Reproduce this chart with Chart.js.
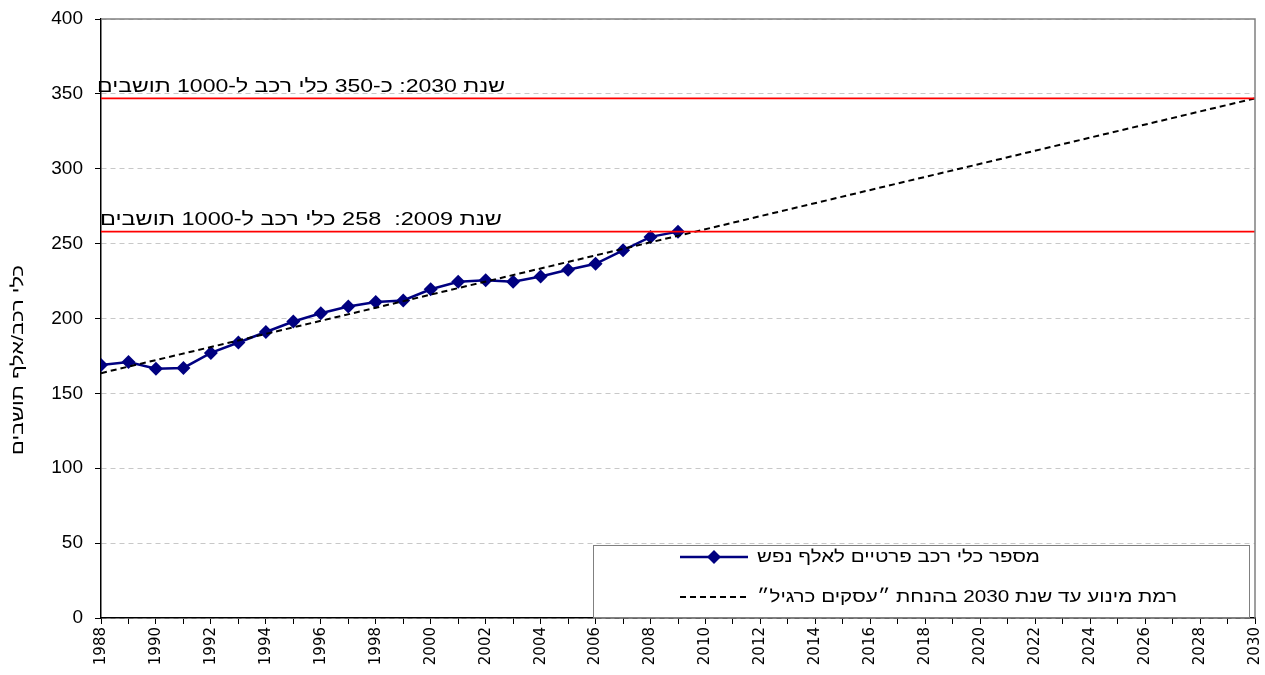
<!DOCTYPE html>
<html><head><meta charset="utf-8">
<script src="https://cdn.jsdelivr.net/npm/chart.js@4"></script>
<style>html,body{margin:0;padding:0;background:#fff}</style>
</head><body>
<canvas id="c" width="1265" height="675" style="display:block"></canvas>
<script>
// ---- data ----
const years = [1988,1989,1990,1991,1992,1993,1994,1995,1996,1997,1998,1999,2000,2001,2002,2003,2004,2005,2006,2007,2008,2009];
const vehiclesPer1000 = [169,171,166.5,167,177,184,191,198,203.5,208,211,212,219.5,224.5,225.5,224.5,228,232.5,236.5,245.5,254.5,258];
const trendYears = [1988, 2030];
const trendValues = [163.5, 347];
const refLineYears = [1988, 2030];
const level2030 = 347;
const level2009 = 258;
const yTicks = [0,50,100,150,200,250,300,350,400];
const xMin = 1988, xMax = 2030;
const seriesLabel = 'מספר כלי רכב פרטיים לאלף נפש';
const trendLabel = 'רמת מינוע עד שנת 2030 בהנחת ״עסקים כרגיל״';
const note2030 = 'שנת 2030: כ-350 כלי רכב ל-1000 תושבים';
const note2009 = 'שנת 2009:  258 כלי רכב ל-1000 תושבים';
const yTitle = 'כלי רכב/אלף תושבים';

const pts = (xs, ys) => xs.map((x, i) => ({x, y: ys[i]}));

// draws RTL text with its left edge at x, stretched to a given width
function stretchText(ctx, text, x, y, width) {
  const w = ctx.measureText(text).width;
  ctx.save();
  ctx.translate(x, y);
  ctx.scale(width / w, 1);
  ctx.direction = 'rtl';
  ctx.textAlign = 'left';
  ctx.fillText(text, 0, 0);
  ctx.restore();
}

const overlay = {
  id: 'overlay',
  afterDraw(chart) {
    const {ctx, chartArea: a, scales: {x, y}} = chart;
    ctx.save();
    ctx.strokeStyle = '#808080'; ctx.lineWidth = 1.5;
    ctx.beginPath();
    ctx.moveTo(a.left, a.top); ctx.lineTo(a.right, a.top); ctx.lineTo(a.right, a.bottom);
    ctx.stroke();
    ctx.fillStyle = '#000';
    ctx.font = '19px "Liberation Sans", Arial, sans-serif';
    ctx.textBaseline = 'alphabetic';
    stretchText(ctx, note2030, 97, y.getPixelForValue(level2030) - 6, 408);
    stretchText(ctx, note2009, 100, y.getPixelForValue(level2009) - 7, 402);
    // y title
    ctx.save();
    ctx.translate(18, 360);
    ctx.rotate(-Math.PI / 2);
    ctx.font = '17px "Liberation Sans", Arial, sans-serif';
    ctx.textBaseline = 'middle';
    stretchText(ctx, yTitle, -95, 0, 190);
    ctx.restore();
    // legend
    ctx.fillStyle = '#fff';
    ctx.fillRect(593, 545, 657, 73);
    ctx.strokeStyle = '#808080'; ctx.lineWidth = 1;
    ctx.strokeRect(593.5, 545.5, 656, 72);
    ctx.strokeStyle = '#000080'; ctx.lineWidth = 2.5;
    ctx.beginPath(); ctx.moveTo(680, 557); ctx.lineTo(748, 557); ctx.stroke();
    ctx.fillStyle = '#000080';
    ctx.beginPath(); ctx.moveTo(714, 550); ctx.lineTo(721, 557); ctx.lineTo(714, 564); ctx.lineTo(707, 557); ctx.closePath(); ctx.fill();
    ctx.strokeStyle = '#000'; ctx.lineWidth = 2; ctx.setLineDash([6, 4]);
    ctx.beginPath(); ctx.moveTo(680, 597); ctx.lineTo(750, 597); ctx.stroke();
    ctx.setLineDash([]);
    ctx.fillStyle = '#000';
    ctx.font = '17px "Liberation Sans", Arial, sans-serif';
    ctx.textBaseline = 'middle';
    stretchText(ctx, seriesLabel, 757, 557, 283);
    stretchText(ctx, trendLabel, 757, 597, 420);
    ctx.restore();
  }
};

new Chart(document.getElementById('c'), {
  type: 'line',
  data: {
    datasets: [
      {label: seriesLabel, data: pts(years, vehiclesPer1000), borderColor: '#000080', backgroundColor: '#000080',
       borderWidth: 2.5, pointStyle: 'rectRot', pointRadius: 7, pointBorderWidth: 0, tension: 0, order: 3},
      {label: trendLabel, data: pts(trendYears, trendValues), borderColor: '#000', borderWidth: 2,
       borderDash: [6, 4], pointRadius: 0, order: 2},
      {label: 'level2030', data: pts(refLineYears, [level2030, level2030]), borderColor: '#ff0000', borderWidth: 1.6, pointRadius: 0, order: 1},
      {label: 'level2009', data: pts(refLineYears, [level2009, level2009]), borderColor: '#ff0000', borderWidth: 1.6, pointRadius: 0, order: 1}
    ]
  },
  options: {
    responsive: false,
    animation: false,
    layout: {padding: {top: 19, right: 10, left: 0, bottom: 0}},
    plugins: {legend: {display: false}, tooltip: {enabled: false}},
    scales: {
      x: {
        type: 'linear', min: xMin, max: xMax,
        afterFit: s => { s.height = 57; s.paddingLeft = 0; s.paddingRight = 0; },
        afterBuildTicks: s => { const t = []; for (let v = xMin; v <= xMax; v++) t.push({value: v}); s.ticks = t; },
        ticks: {autoSkip: false, maxRotation: 90, minRotation: 90, padding: 3, color: '#000',
          font: {family: '"DejaVu Sans", Verdana, sans-serif', size: 15},
          callback: v => (v % 2 === 0 ? String(v) : '')},
        grid: {drawOnChartArea: false, drawTicks: true, tickLength: 6, tickColor: '#000'},
        border: {display: true, color: '#000', width: 1.5}
      },
      y: {
        min: 0, max: 400,
        afterFit: s => { s.width = 101; s.paddingTop = 0; s.paddingBottom = 0; },
        afterBuildTicks: s => { s.ticks = yTicks.map(v => ({value: v})); },
        ticks: {padding: 12, color: '#000', font: {family: '"Liberation Sans", Arial, sans-serif', size: 19}},
        grid: {color: '#c8c8c8', lineWidth: 1, drawTicks: true, tickLength: 6, tickColor: '#000'},
        border: {display: true, color: '#000', width: 1.5, dash: [5, 4]}
      }
    }
  },
  plugins: [overlay]
});
</script>
</body></html>
